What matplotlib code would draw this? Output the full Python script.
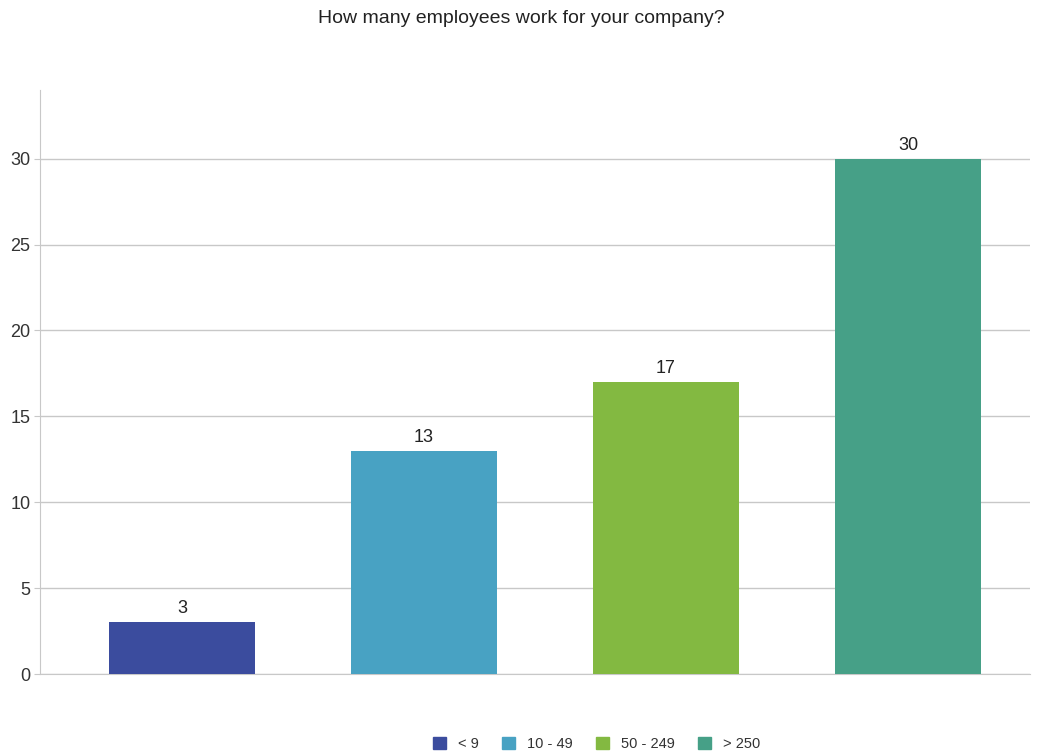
import numpy as np
import matplotlib.pyplot as plt
from matplotlib.patches import Patch

plt.rcParams['font.family'] = ['Liberation Sans', 'DejaVu Sans']

categories = ['< 9', '10 - 49', '50 - 249', '> 250']
counts = [3, 13, 17, 30]
colors = ['#3b4c9e', '#48a2c3', '#83b941', '#46a087']

fig = plt.figure(figsize=(10.43, 7.53), dpi=100)
ax = fig.add_axes([0.0384, 0.1049, 0.9491, 0.7756])

x = np.arange(len(categories))
bars = ax.bar(x, counts, width=0.6, color=colors, zorder=3)
for xi, v in zip(x, counts):
    ax.text(xi, v + 0.3, str(v), ha='center', va='bottom', fontsize=13, color='#222222')

ax.set_xlim(-0.587, 3.504)
ax.set_ylim(0, 34)
ax.set_yticks(range(0, 31, 5))
ax.set_xticks([])
ax.grid(axis='y', color='#c8c8c8', linewidth=1, zorder=0)
for s in ['top', 'right']:
    ax.spines[s].set_visible(False)
ax.spines['left'].set_color('#c8c8c8')
ax.spines['bottom'].set_color('#c8c8c8')
ax.tick_params(axis='y', length=4, color='#c8c8c8', labelsize=13, labelcolor='#333333', pad=3)

fig.text(0.5, 0.976, 'How many employees work for your company?', ha='center', va='center',
         fontsize=14, color='#222222')

handles = [Patch(color=c, label=l) for c, l in zip(colors, categories)]
fig.legend(handles=handles, loc='center', bbox_to_anchor=(0.572, 0.012), ncol=4, frameon=False,
           fontsize=10.5, handlelength=0.9, handleheight=0.9, columnspacing=1.6, handletextpad=0.8,
           labelcolor='#333333')

fig.savefig('out.png', dpi=100)
